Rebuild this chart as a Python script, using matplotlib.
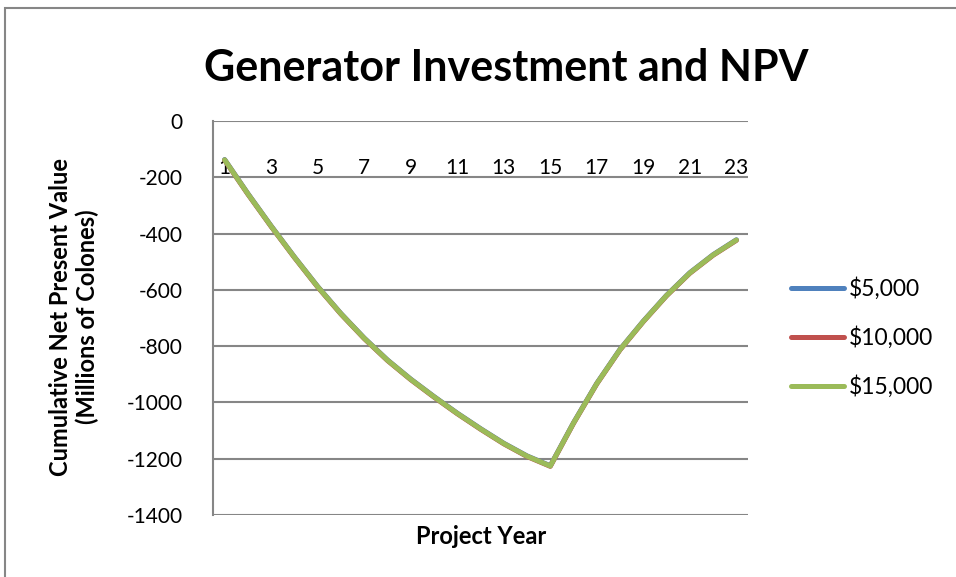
import matplotlib
matplotlib.use("Agg")
import matplotlib.pyplot as plt
from matplotlib.patches import Rectangle

years = list(range(1, 24))
npv_5000 = [-137, -258, -373, -483, -588, -684, -771, -849, -917, -979, -1038, -1093,
            -1145, -1190, -1225, -1072, -932, -811, -711, -619, -539, -475, -422]
npv_10000 = [-139, -260, -375, -485, -590, -686, -773, -851, -919, -981, -1040, -1095,
             -1147, -1192, -1227, -1074, -934, -813, -713, -621, -541, -477, -424]
npv_15000 = [-138, -259, -374, -484, -589, -685, -772, -850, -918, -980, -1039, -1094,
             -1146, -1191, -1226, -1073, -933, -812, -712, -620, -540, -476, -423]
series_labels = ["$5,000", "$10,000", "$15,000"]
colors = ["#4F81BD", "#C0504D", "#9BBB59"]
yticks = list(range(0, -1401, -200))
xtick_labels = [str(y) for y in years if y % 2 == 1]

plt.rcParams['font.family'] = ['Lato', 'DejaVu Sans']

fig = plt.figure(figsize=(9.56, 5.77), dpi=100)
fig.patches.append(Rectangle((5/956, -0.01), 1.0, 1 - 8/577 + 0.01, transform=fig.transFigure,
                             fill=False, edgecolor="#868686", linewidth=1.5))

ax = fig.add_axes([213/956, 1 - 515/577, (748-213)/956, (515-121)/577])

for vals, lab, c in zip([npv_5000, npv_10000, npv_15000], series_labels, colors):
    ax.plot(years, vals, color=c, linewidth=3.6, label=lab, solid_capstyle='round', solid_joinstyle='round')

ax.set_xlim(0.5, 23.5)
ax.set_ylim(-1400, 0)
ax.set_yticks(yticks)
ax.set_yticklabels([str(v) for v in yticks])
ax.yaxis.grid(True, color="#868686", linewidth=1.5)
ax.set_axisbelow(True)

ax.set_xticks([y for y in years if y % 2 == 1])
ax.set_xticklabels(xtick_labels)
ax.spines['bottom'].set_position(('data', 0))
ax.spines['bottom'].set_visible(False)
ax.spines['top'].set_visible(False)
ax.spines['right'].set_visible(False)
ax.spines['left'].set_color("#868686")
ax.spines['left'].set_linewidth(1.5)
ax.tick_params(axis='x', length=0, pad=27, labelsize=15)
ax.tick_params(axis='y', length=0, pad=22, labelsize=15)

fig.text(74/956, 1 - 317/577, "Cumulative Net Present Value\n(Millions of Colones)", rotation=90,
         ha='center', va='center', multialignment='center', fontsize=17, fontweight='bold',
         linespacing=1.2)
fig.text(481/956, 1 - 536/577, "Project Year", ha='center', va='center', fontsize=17, fontweight='bold')
fig.text(506/956, 1 - 68/577, "Generator Investment and NPV", ha='center', va='center',
         fontsize=31, fontweight='bold')

fig.legend(loc='center left', bbox_to_anchor=(770/956, 1 - 338/577), frameon=False,
           fontsize=16.5, handlelength=2.35, handletextpad=0.17, labelspacing=1.15)

fig.savefig("out.png", dpi=100)
